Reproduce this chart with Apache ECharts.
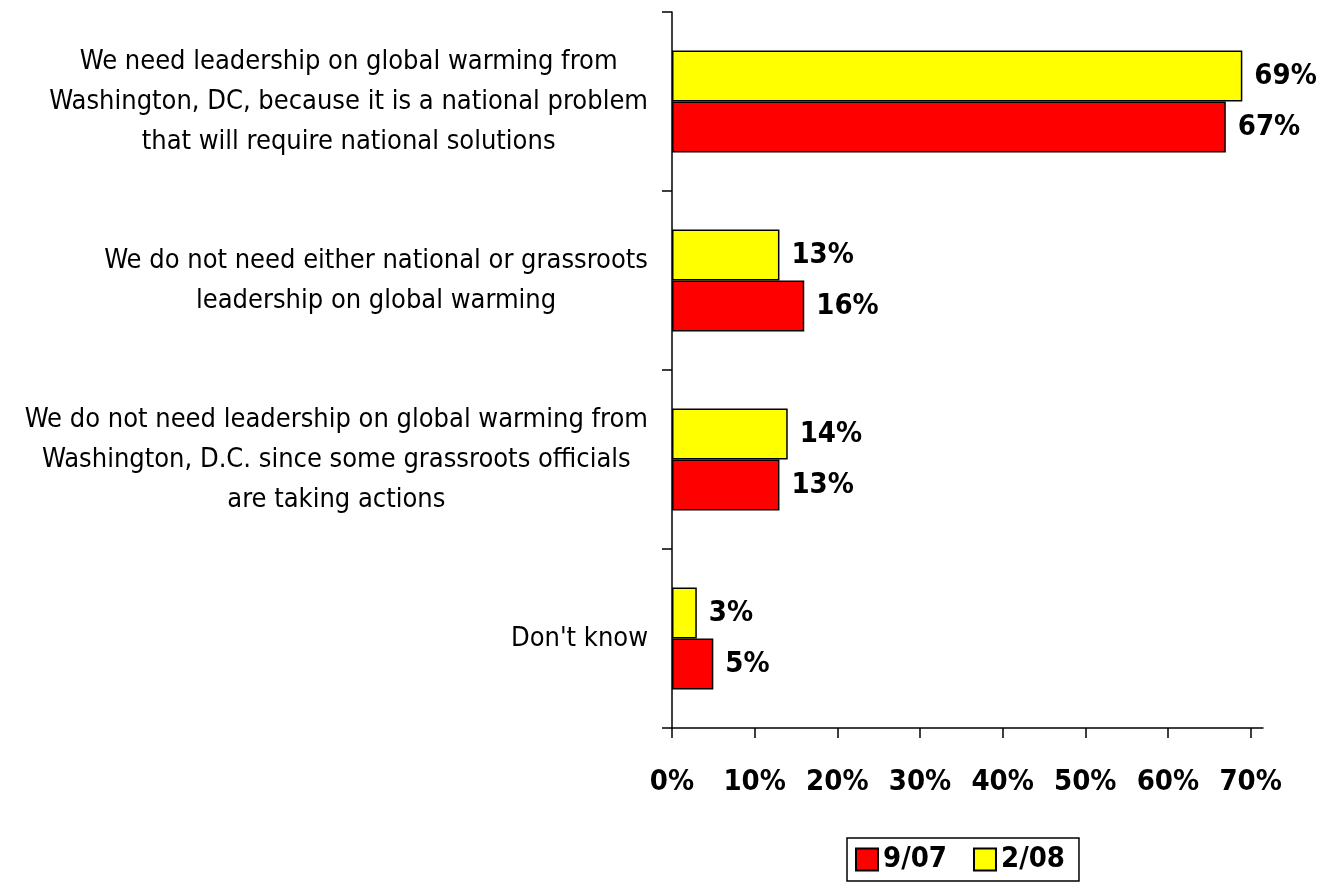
<!DOCTYPE html>
<html>
<head>
<meta charset="utf-8">
<script src="https://cdn.jsdelivr.net/npm/echarts@6/dist/echarts.min.js"></script>
<style>
  html, body { margin: 0; padding: 0; background: #fff; }
  #chart { width: 1319px; height: 892px; }
</style>
</head>
<body>
<div id="chart"></div>
<script>
// Categories listed top to bottom as they appear in the chart
const categories = [
  "We need leadership on global warming from\nWashington, DC, because it is a national problem\nthat will require national solutions",
  "We do not need either national or grassroots\nleadership on global warming",
  "We do not need leadership on global warming from\nWashington, D.C. since some grassroots officials\nare taking actions",
  "Don't know"
];
const series0907 = [67, 16, 13, 5];
const series0208 = [69, 13, 14, 3];
const seriesNames = ["9/07", "2/08"];
const xTicks = [0, 10, 20, 30, 40, 50, 60, 70];

const FONT = "'Liberation Sans Narrow', 'Arial Narrow', 'DejaVu Sans Condensed', sans-serif";

// y category axis runs bottom-to-top, so reverse to keep the first category on top
const yCats = categories.slice().reverse();
const d0907 = series0907.slice().reverse();
const d0208 = series0208.slice().reverse();

const chart = echarts.init(document.getElementById('chart'), null, { renderer: 'canvas' });

const labelStyle = {
  show: true,
  position: 'right',
  distance: 12,
  formatter: '{c}%',
  fontFamily: FONT,
  fontWeight: 'bold',
  fontSize: 29,
  color: '#000'
};

chart.setOption({
  backgroundColor: '#ffffff',
  animation: false,
  textStyle: { fontFamily: FONT },
  grid: { left: 672, right: 56, top: 12, bottom: 164, containLabel: false, outerBoundsMode: 'none' },
  xAxis: {
    type: 'value',
    min: 0,
    max: 71.5,
    interval: 10,
    splitLine: { show: false },
    axisLine: { show: true, lineStyle: { color: '#000', width: 1.5 } },
    axisTick: { show: true, length: 10, lineStyle: { color: '#000', width: 1.5 }, customValues: xTicks },
    axisLabel: {
      customValues: xTicks,
      formatter: '{value}%',
      fontFamily: FONT,
      fontWeight: 'bold',
      fontSize: 29,
      color: '#000',
      margin: 40
    }
  },
  yAxis: {
    type: 'category',
    data: yCats,
    axisLine: { show: true, lineStyle: { color: '#000', width: 1.5 } },
    axisTick: { show: true, length: 10, lineStyle: { color: '#000', width: 1.5 } },
    splitLine: { show: false },
    axisLabel: {
      margin: 24,
      color: '#000',
      fontFamily: FONT,
      fontSize: 27,
      lineHeight: 40,
      formatter: function (v) {
        return v.split('\n').map(function (l) { return '{c|' + l + '}'; }).join('\n');
      },
      rich: {
        c: { align: 'center', fontFamily: FONT, fontSize: 27, lineHeight: 40, color: '#000' }
      }
    }
  },
  legend: {
    data: seriesNames,
    left: 847,
    top: 838,
    orient: 'horizontal',
    icon: 'rect',
    itemWidth: 22,
    itemHeight: 22,
    itemGap: 26,
    borderColor: '#000',
    borderWidth: 1.5,
    padding: [7, 14, 7, 8],
    textStyle: { fontFamily: FONT, fontWeight: 'bold', fontSize: 29, color: '#000' }
  },
  series: [
    {
      name: seriesNames[1],
      type: 'bar',
      data: d0208,
      barGap: '0%',
      barCategoryGap: '43%',
      itemStyle: { color: '#FFFF00', borderColor: '#000', borderWidth: 1.5 },
      label: labelStyle
    },
    {
      name: seriesNames[0],
      type: 'bar',
      data: d0907,
      barGap: '0%',
      barCategoryGap: '43%',
      itemStyle: { color: '#FF0000', borderColor: '#000', borderWidth: 1.5 },
      label: labelStyle
    }
  ]
});
</script>
</body>
</html>
